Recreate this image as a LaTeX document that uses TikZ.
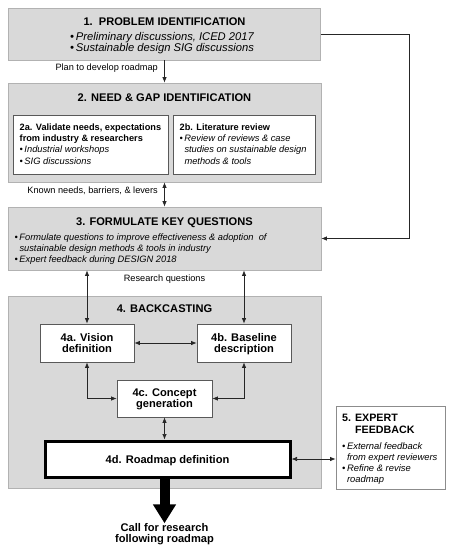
\documentclass[tikz,border=0pt]{standalone}
\usepackage{fontspec}
\setmainfont{Liberation Sans}
\usetikzlibrary{arrows.meta}

\newcommand{\bul}{\textbullet\,}
\newcommand{\nobul}{\phantom{\textbullet\,}}

\begin{document}
\begin{tikzpicture}[x=1pt,y=-1pt,
  stage/.style={draw=black!30, fill=black!15, line width=0.8pt, inner sep=0pt},
  subbox/.style={draw=black!65, fill=white, line width=0.8pt, inner sep=0pt},
  stagetitle/.style={font=\fontsize{11.1}{12}\selectfont\bfseries, inner sep=0pt},
  boxtext/.style={font=\fontsize{9.2}{11.3}\selectfont, align=left, inner sep=0pt, anchor=north west},
  steptext/.style={font=\fontsize{11.1}{11}\selectfont\bfseries, align=center, text depth=0pt},
  lbl/.style={font=\fontsize{9.2}{10}\selectfont, inner sep=0pt},
  arr/.style={line width=0.7pt, black!85, {Latex[length=5.5pt,width=4.5pt]}-{Latex[length=5.5pt,width=4.5pt]}},
  arrone/.style={line width=0.7pt, black!85, -{Latex[length=5.5pt,width=4.5pt]}}]
\useasboundingbox (0,0) rectangle (453,550);

% 1. problem identification
\node [stage, minimum width=312, minimum height=52] (p1) at (164.5,34) {};
\node [stagetitle] (t1) at (164.5,22) {1.\ \ PROBLEM IDENTIFICATION};
\node [font=\fontsize{11.2}{11}\selectfont\itshape, align=left, inner sep=0pt] (b1) at (162,43.5)
  {\bul Preliminary discussions, ICED 2017\\ \bul Sustainable design SIG discussions};

% 2. need and gap identification
\node [stage, minimum width=313, minimum height=99] (p2) at (164.5,132.5) {};
\node [stagetitle] (t2) at (164.5,98) {2. NEED \& GAP IDENTIFICATION};
\node [subbox, minimum width=155, minimum height=59] (p2a) at (90.5,144.5) {};
\node [subbox, minimum width=142, minimum height=59] (p2b) at (244,144.5) {};
\node [boxtext] (b2a) at (19.5,123.5)
  {\textbf{2a. Validate needs, expectations}\\ \textbf{from industry \& researchers}\\
   \itshape\fontsize{9.3}{11.3}\selectfont\bul Industrial workshops\\
   \itshape\fontsize{9.3}{11.3}\selectfont\bul SIG discussions};
\node [boxtext] (b2b) at (179.5,123.5)
  {\textbf{2b. Literature review}\\
   \itshape\fontsize{9.3}{11.3}\selectfont\bul Review of reviews \& case\\
   \itshape\fontsize{9.3}{11.3}\selectfont\nobul studies on sustainable design\\
   \itshape\fontsize{9.3}{11.3}\selectfont\nobul methods \& tools};

% 3. formulate key questions
\node [stage, minimum width=313, minimum height=63] (p3) at (164.5,238.5) {};
\node [stagetitle] (t3) at (164.5,223) {3. FORMULATE KEY QUESTIONS};
\node [boxtext, font=\fontsize{9.3}{11}\selectfont\itshape] (b3) at (14.5,233.5)
  {\bul Formulate questions to improve effectiveness \& adoption\ \ of\\
   \nobul sustainable design methods \& tools in industry\\
   \bul Expert feedback during DESIGN 2018};

% 4. backcasting
\node [stage, minimum width=313, minimum height=192] (p4) at (164.5,392) {};
\node [stagetitle] (t4) at (164.5,309) {4. BACKCASTING};
\node [subbox, minimum width=94, minimum height=38, steptext] (p4a) at (87,343) {4a. Vision\\definition};
\node [subbox, minimum width=94, minimum height=38, steptext] (p4b) at (244,343) {4b. Baseline\\description};
\node [subbox, minimum width=95, minimum height=37, steptext] (p4c) at (164.5,398.5) {4c. Concept\\generation};
\node [subbox, draw=black, line width=3pt, minimum width=245, minimum height=36, steptext] (p4d) at (167.5,459) {4d. Roadmap definition};

% 5. expert feedback
\node [draw=black!45, fill=white, line width=0.8pt, inner sep=0pt, minimum width=109, minimum height=83] (p5) at (390.5,447.5) {};
\node [boxtext, font=\fontsize{10.7}{12}\selectfont\bfseries] (t5) at (342,414)
  {5. EXPERT\\ \phantom{5. }FEEDBACK};
\node [boxtext, font=\fontsize{9.4}{11}\selectfont\itshape] (b5) at (342,442)
  {\bul External feedback\\ \nobul from expert reviewers\\ \bul Refine \& revise\\ \nobul roadmap};

\node [steptext, inner sep=0pt] (call) at (164.5,533) {Call for research\\following roadmap};

% connectors
\draw [arrone] (p1.south) -- (p2.north);
\node [lbl, anchor=east] (l1) at (158,68) {Plan to develop roadmap};
\draw [arr] (p2.south) -- (p3.north);
\node [lbl, anchor=east] (l2) at (158,191) {Known needs, barriers, \& levers};
\node [lbl] (l3) at (164.5,279) {Research questions};
\draw [arr] (p4a.north |- p3.south) -- (p4a.north);
\draw [arr] (p4b.north |- p3.south) -- (p4b.north);
\draw [arr] (p4a.east) -- (p4b.west);
\draw [arr] (p4a.south) |- (p4c.west);
\draw [arr] (p4b.south) |- (p4c.east);
\draw [arr] (p4c.south) -- (p4c.south |- p4d.north);
\draw [arr] (p4d.east) -- (p4d.east -| p5.west);
\coordinate (fb) at (409,34);
\draw [arrone] (p1.east) -- (fb) |- (p3.east);
\draw [line width=10pt, -{Triangle[length=19pt,width=22pt]}] (p4c.south |- p4d.south) -- (call.north);
\end{tikzpicture}
\end{document}
